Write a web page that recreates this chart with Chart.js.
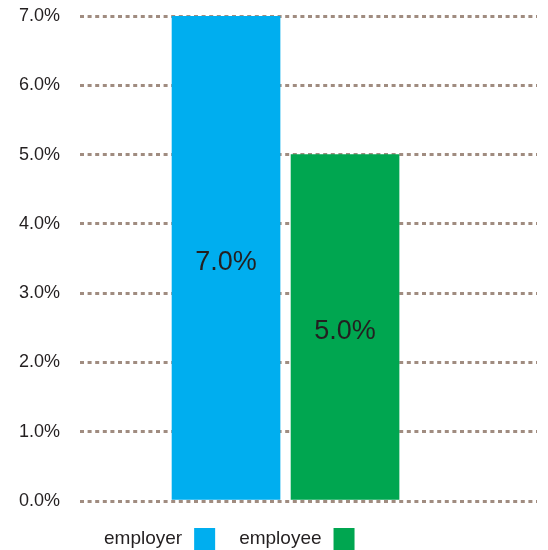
<!DOCTYPE html>
<html>
<head>
<meta charset="utf-8">
<script src="https://cdn.jsdelivr.net/npm/chart.js@4.4.1/dist/chart.umd.min.js"></script>
<style>
    html, body { margin: 0; padding: 0; background: #fff; }
    canvas { display: block; }
</style>
</head>
<body>
<canvas id="chart" width="548" height="550"></canvas>
<script>
// datos del gráfico
const categories = ['employer', 'employee'];
const values = [7.0, 5.0];
const barColors = ['#00AEEF', '#00A650'];
const yTicks = [0, 1, 2, 3, 4, 5, 6, 7];

const textColor = '#231F20';
const fontFamily = '"Liberation Sans", Arial, Helvetica, sans-serif';

// etiquetas de valor en el centro de cada barra
const barLabels = {
    id: 'barLabels',
    afterDatasetsDraw(chart) {
        const ctx = chart.ctx;
        ctx.save();
        ctx.font = '27px ' + fontFamily;
        ctx.fillStyle = textColor;
        ctx.textAlign = 'center';
        ctx.textBaseline = 'middle';
        chart.data.datasets.forEach((ds, i) => {
            const bar = chart.getDatasetMeta(i).data[0];
            const mid = (bar.y + bar.base) / 2;
            ctx.fillText(ds.data[0].y.toFixed(1) + '%', bar.x, mid + 5);
        });
        ctx.restore();
    }
};

// leyenda: texto primero y luego el cuadro de color
const textLegend = {
    id: 'textLegend',
    afterDraw(chart) {
        const ctx = chart.ctx;
        ctx.save();
        ctx.font = '19px ' + fontFamily;
        ctx.textBaseline = 'middle';
        ctx.textAlign = 'left';
        let x = 104;
        const y = 539;
        chart.data.datasets.forEach((ds) => {
            ctx.fillStyle = textColor;
            ctx.fillText(ds.label, x, y);
            x += ctx.measureText(ds.label).width + 12;
            ctx.fillStyle = ds.backgroundColor;
            ctx.fillRect(x, 528, 21, 22);
            x += 21 + 24;
        });
        ctx.restore();
    }
};

const ctx = document.getElementById('chart').getContext('2d');
const chart = new Chart(ctx, {
    type: 'bar',
    data: {
        datasets: categories.map((name, i) => ({
            label: name,
            data: [{ x: i, y: values[i] }],
            backgroundColor: barColors[i],
            grouped: false,
            barThickness: 108
        }))
    },
    options: {
        responsive: false,
        animation: false,
        devicePixelRatio: 1,
        layout: {
            padding: { top: 16, right: 11, bottom: 49, left: 0 }
        },
        scales: {
            x: {
                type: 'linear',
                display: false,
                offset: false,
                min: -1.227,
                max: 2.613
            },
            y: {
                min: 0,
                max: 7,
                afterBuildTicks(scale) {
                    scale.ticks = yTicks.map(v => ({ value: v }));
                },
                afterFit(scale) {
                    scale.width = 80;
                    scale.paddingTop = 0;
                    scale.paddingBottom = 0;
                },
                border: { display: false, dash: [4, 3.6] },
                grid: {
                    color: '#A08C80',
                    lineWidth: 3,
                    drawTicks: false
                },
                ticks: {
                    autoSkip: false,
                    padding: 20,
                    color: textColor,
                    font: { family: fontFamily, size: 18 },
                    callback: v => v.toFixed(1) + '%'
                }
            }
        },
        plugins: {
            legend: { display: false },
            tooltip: { enabled: false }
        }
    },
    plugins: [barLabels, textLegend]
});
</script>
</body>
</html>
